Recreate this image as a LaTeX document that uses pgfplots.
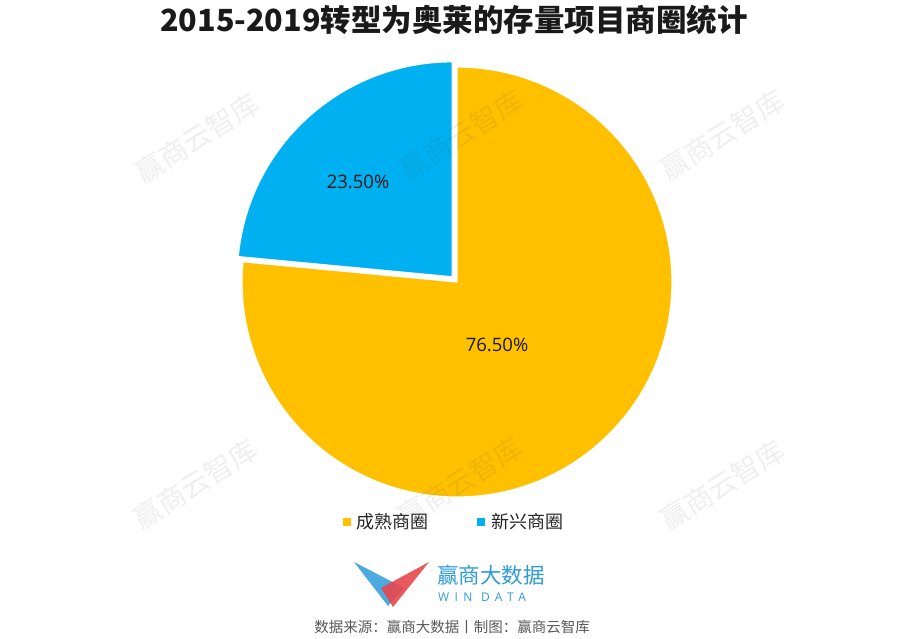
\documentclass[border=0pt]{standalone}
\usepackage{pgfplots}
\pgfplotsset{compat=1.18}
\usepackage{pgfplotstable}
\usepackage{fontspec}
\setmainfont{Open Sans}
\newfontfamily\cjk{Noto Sans CJK SC}
\newfontfamily\numfont{Open Sans}
\newfontfamily\windatafont[LetterSpace=45]{Open Sans}
\definecolor{pieyellow}{HTML}{FFC000}
\definecolor{pieblue}{HTML}{00B0F0}
\definecolor{logoblue}{HTML}{2E9BD8}
\definecolor{logored}{HTML}{E8474B}
\definecolor{titlec}{HTML}{1A1A1A}
\definecolor{srcc}{HTML}{595959}

\pgfplotstableread{
idx value
0 76.5
1 23.5
}\piedata
\tikzset{wm/.style={rotate=32, text=black!70, text opacity=0.09, font=\cjk\fontsize{28}{28}\selectfont}}

\begin{document}%
\begin{tikzpicture}
\pgfplotstablegetelem{0}{value}\of\piedata
\pgfmathsetmacro\va{\pgfplotsretval}
\pgfplotstablegetelem{1}{value}\of\piedata
\pgfmathsetmacro\vb{\pgfplotsretval}
\pgfmathsetmacro\angA{90-3.6*\va}
\pgfmathsetmacro\angB{\angA-3.6*\vb}
\pgfmathsetmacro\midB{(\angA+\angB)/2}
\pgfmathsetmacro\cx{457}
\pgfmathsetmacro\cy{356}
\pgfmathsetmacro\bx{\cx+7*cos(\midB)}
\pgfmathsetmacro\by{\cy+7*sin(\midB)}
\begin{axis}[
  x=1pt, y=1pt,
  xmin=0, xmax=908, ymin=0, ymax=638,
  xtick=\empty, ytick=\empty,
  axis lines=none, hide axis, clip=false,
]
\coordinate (SW) at (axis cs:0,0);
\coordinate (NE) at (axis cs:908,638);
\path (axis cs:0,0) rectangle (axis cs:908,638);
% pie slices
\fill[pieyellow, draw=white, line width=1.2pt] (axis cs:\cx,\cy) -- ++(90:215pt)
   arc[start angle=90, end angle=\angA, radius=215pt] -- cycle;
\fill[pieblue, draw=white, line width=1.2pt] (axis cs:\bx,\by) -- ++(\angA:215pt)
   arc[start angle=\angA, end angle=\angB, radius=215pt] -- cycle;
% watermarks
\node[wm] at (axis cs:197,500) {赢商云智库};
\node[wm] at (axis cs:461,503) {赢商云智库};
\node[wm] at (axis cs:722,503) {赢商云智库};
\node[wm] at (axis cs:195,154) {赢商云智库};
\node[wm] at (axis cs:460,156) {赢商云智库};
\node[wm] at (axis cs:722,153) {赢商云智库};
% value labels
\node[font=\numfont\fontsize{18.5}{20}\selectfont, text=black!90] at (axis cs:497,293) {\pgfmathprintnumber[assume math mode=true,fixed,fixed zerofill,precision=2]{\va}\%};
\node[font=\numfont\fontsize{18.5}{20}\selectfont, text=black!90] at (axis cs:358,456) {\pgfmathprintnumber[assume math mode=true,fixed,fixed zerofill,precision=2]{\vb}\%};
% title
\node[font=\cjk\bfseries\fontsize{30.5}{31}\selectfont, text=titlec] at (axis cs:454,618) {2015-2019转型为奥莱的存量项目商圈统计};
% legend
\fill[pieyellow] (axis cs:342.7,112) rectangle (axis cs:351,120.5);
\node[anchor=west, inner sep=0pt, font=\cjk\fontsize{18}{18}\selectfont, text=black!85] at (axis cs:356,116.5) {成熟商圈};
\fill[pieblue] (axis cs:476.7,112) rectangle (axis cs:485,120.5);
\node[anchor=west, inner sep=0pt, font=\cjk\fontsize{18}{18}\selectfont, text=black!85] at (axis cs:491,116.5) {新兴商圈};
% logo
\fill[logoblue!85] (axis cs:354,76) -- (axis cs:404,50) -- (axis cs:388,32) -- cycle;
\fill[logored, opacity=0.9] (axis cs:429,76) -- (axis cs:381,50) -- (axis cs:393,31) -- cycle;
\node[anchor=west, inner sep=0pt, font=\cjk\fontsize{21.5}{22}\selectfont, text=logoblue] at (axis cs:437,63) {赢商大数据};
\node[anchor=west, inner sep=0pt, font=\windatafont\fontsize{12}{12}\selectfont, text=logoblue] at (axis cs:438,41) {WIN DATA};
% source
\node[font=\cjk\fontsize{14.5}{15}\selectfont, text=srcc] at (axis cs:452,11) {数据来源：赢商大数据丨制图：赢商云智库};
\end{axis}
\pgfresetboundingbox
\path[use as bounding box] (SW) rectangle (NE);
\end{tikzpicture}%
\end{document}
